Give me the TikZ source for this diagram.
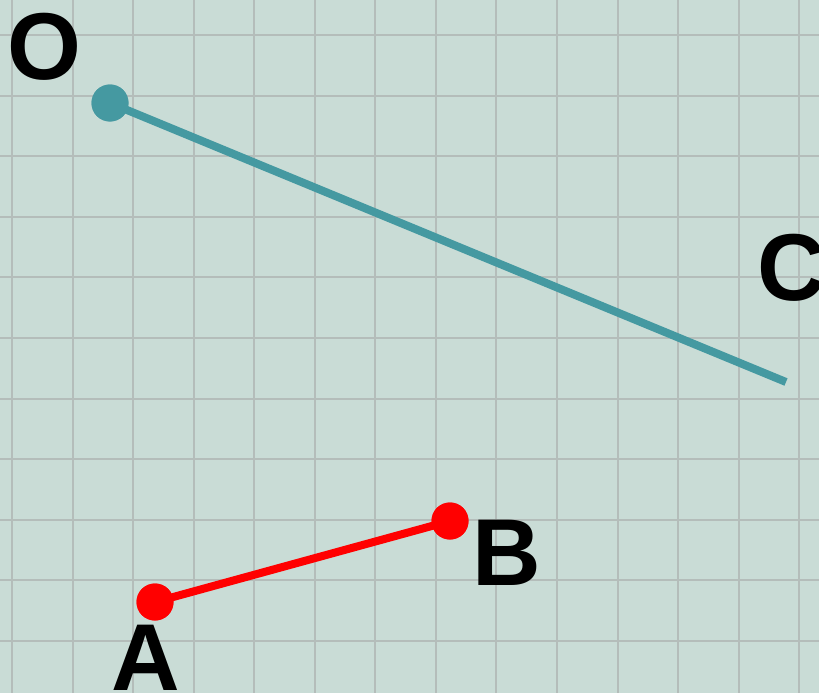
\documentclass[tikz,border=0pt]{standalone}
\usepackage{fontspec}
\setmainfont{Liberation Sans}
\usetikzlibrary{positioning}
\definecolor{bgpaper}{HTML}{C9DCD6}
\definecolor{gridline}{HTML}{B4BDBA}
\definecolor{segteal}{HTML}{4599A1}
\definecolor{segred}{HTML}{FF0000}
\tikzset{
  dot/.style={circle, inner sep=0pt, minimum size=37pt},
  tealdot/.style={dot, fill=segteal},
  reddot/.style={dot, fill=segred},
  lbl/.style={inner sep=0pt, font=\fontsize{95}{95}\selectfont\bfseries},
  seg/.style={line width=8pt},
}
\begin{document}
\begin{tikzpicture}[x=1pt, y=-1pt]
  \fill[bgpaper] (0,0) rectangle (819,693);
  \useasboundingbox (0,0) rectangle (819,693);
  % grid paper
  \foreach \i in {0,...,13}
    \draw[gridline, line width=2pt] ({12+60.55*\i},0) -- ({12+60.55*\i},693);
  \foreach \j in {0,...,10}
    \draw[gridline, line width=2pt] (0,{35+60.6*\j}) -- (819,{35+60.6*\j});
  % points
  \node[tealdot] (O) at (110,103) {};
  \coordinate    (C) at (786,382);
  \node[reddot]  (A) at (155,602) {};
  \node[reddot]  (B) at (450,521) {};
  \draw[seg, segteal] (O.center) -- (C);
  \draw[seg, segred]  (A.center) -- (B.center);
  \node[tealdot] at (O) {};
  \node[reddot]  at (A) {};
  \node[reddot]  at (B) {};
  % labels
  \node[lbl] (Olbl) at (44,47)  {O};
  \node[lbl] (Clbl) at (792,268) {C};
  \node[lbl] (Albl) at (146,658) {A};
  \node[lbl] (Blbl) at (507,553) {B};
\end{tikzpicture}
\end{document}
